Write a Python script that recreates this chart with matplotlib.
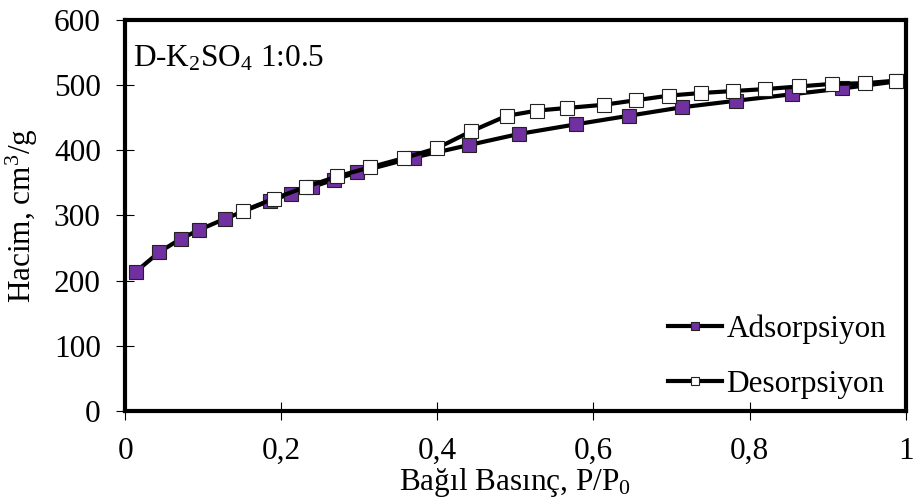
import matplotlib
matplotlib.use("Agg")
import matplotlib.pyplot as plt

plt.rcParams['font.family'] = ['Liberation Serif', 'DejaVu Serif']
plt.rcParams['mathtext.fontset'] = 'custom'
plt.rcParams['mathtext.rm'] = 'Liberation Serif'
plt.rcParams['mathtext.default'] = 'regular'

# Adsorption branch (relative pressure, volume cm3/g)
ads_x = [0.014, 0.044, 0.071, 0.095, 0.128, 0.186, 0.212, 0.240, 0.268, 0.297,
         0.370, 0.440, 0.504, 0.578, 0.645, 0.713, 0.782, 0.854, 0.919, 0.990]
ads_y = [214, 244, 264, 278, 295, 323, 333, 344, 355, 366,
         389, 408, 425, 440, 453, 466, 476, 486, 495, 506]

# Desorption branch
des_x = [0.988, 0.948, 0.906, 0.863, 0.820, 0.779, 0.738, 0.697, 0.655, 0.614,
         0.566, 0.528, 0.489, 0.443, 0.399, 0.357, 0.314, 0.272, 0.232, 0.191, 0.151]
des_y = [507, 503, 502, 498, 494, 491, 488, 484, 477, 470,
         465, 461, 453, 429, 403, 388, 374, 360, 344, 326, 307]

x_ticks = [0, 0.2, 0.4, 0.6, 0.8, 1.0]
x_tick_labels = ['0', '0,2', '0,4', '0,6', '0,8', '1']
y_ticks = [0, 100, 200, 300, 400, 500, 600]

fig = plt.figure(figsize=(9.13, 5.0), dpi=100)
ax = fig.add_axes([0.137, 0.178, 0.855, 0.782])

ax.plot(ads_x, ads_y, color='black', linewidth=3, marker='s', markersize=9.5,
        markerfacecolor='#7030A0', markeredgecolor='#222222', markeredgewidth=0.8,
        label='Adsorpsiyon', zorder=3)
ax.plot(des_x, des_y, color='black', linewidth=3, marker='s', markersize=9.5,
        markerfacecolor='white', markeredgecolor='#222222', markeredgewidth=0.8,
        label='Desorpsiyon', zorder=4)

ax.set_xlim(0, 1)
ax.set_ylim(0, 600)
ax.set_xticks(x_ticks)
ax.set_xticklabels(x_tick_labels)
ax.set_yticks(y_ticks)

for sp in ax.spines.values():
    sp.set_linewidth(3)
    sp.set_zorder(5)

ax.tick_params(direction='inout', length=13, width=0.8, labelsize=22.5, pad=11)
ax.tick_params(axis='x', pad=12)

ax.set_xlabel('Bağıl Basınç, P/P$_0$', fontsize=22.5, labelpad=0)
ax.set_ylabel('Hacim, cm$^3$/g', fontsize=22.5, labelpad=10)

ax.text(0.01, 0.88, 'D-K$_2$SO$_4$ 1:0.5', transform=ax.transAxes,
        fontsize=22.5, va='baseline', ha='left')

ax.legend(loc='lower right', bbox_to_anchor=(0.975, 0.03), frameon=False,
          fontsize=22.5, handlelength=1.7, handletextpad=0.15,
          labelspacing=0.85, markerscale=0.65, borderpad=0, borderaxespad=0)

fig.savefig('out.png', dpi=100)
